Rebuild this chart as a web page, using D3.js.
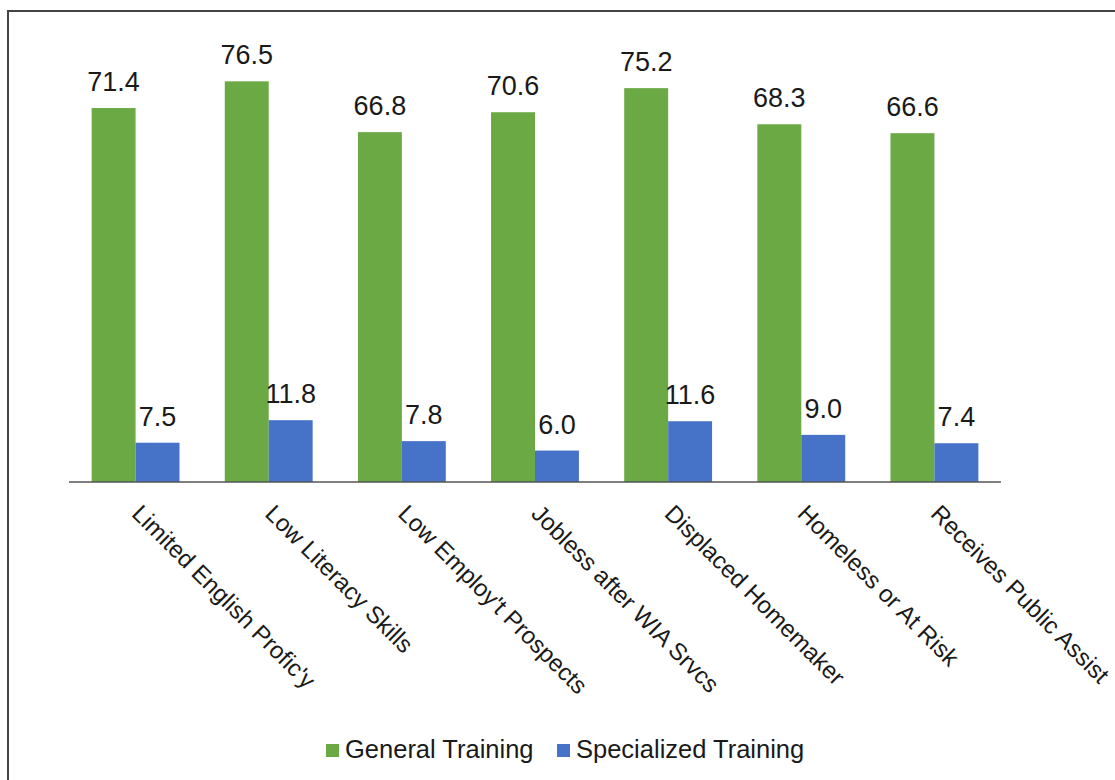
<!DOCTYPE html>
<html>
<head>
<meta charset="utf-8">
<script src="https://cdn.jsdelivr.net/npm/d3@7"></script>
<style>
  body { margin: 0; background: #fff; }
  text { font-family: Arial, "Liberation Sans", sans-serif; fill: #1a1a1a; }
</style>
</head>
<body>
<svg id="chart" width="1115" height="780"></svg>
<script>
// chart data
var categories = ["Limited English Profic'y", "Low Literacy Skills", "Low Employ't Prospects",
    "Jobless after WIA Srvcs", "Displaced Homemaker", "Homeless or At Risk", "Receives Public Assist"];
var seriesNames = ["General Training", "Specialized Training"];
var generalValues = [71.4, 76.5, 66.8, 70.6, 75.2, 68.3, 66.6];
var specializedValues = [7.5, 11.8, 7.8, 6.0, 11.6, 9.0, 7.4];
var colors = ["#6aa944", "#4673c8"];

var svg = d3.select("#chart");

// outer frame (runs off the right and bottom of the picture)
svg.append("rect")
    .attr("x", 8).attr("y", 11)
    .attr("width", 1130).attr("height", 800)
    .attr("fill", "none")
    .attr("stroke", "#444")
    .attr("stroke-width", 2);

var m = { left: 69, right: 114, top: 63, bottom: 298 };
var w = 1115 - m.left - m.right;
var h = 780 - m.top - m.bottom;

var chart = svg.append("g")
    .attr("transform", "translate(" + m.left + "," + m.top + ")");

var x = d3.scaleBand()
    .domain(categories)
    .range([0, w])
    .paddingInner(0.34)
    .paddingOuter(0.17);

var x1 = d3.scaleBand()
    .domain(seriesNames)
    .range([0, x.bandwidth()]);

var y = d3.scaleLinear()
    .domain([0, 80])
    .range([h, 0]);

var rows = categories.map(function (c, i) {
    return { cat: c, vals: [generalValues[i], specializedValues[i]] };
});

var groups = chart.selectAll(".grp")
    .data(rows)
    .enter().append("g")
    .attr("class", "grp")
    .attr("transform", function (d) { return "translate(" + x(d.cat) + ",0)"; });

groups.selectAll("rect")
    .data(function (d) { return d.vals.map(function (v, j) { return { s: seriesNames[j], v: v, j: j }; }); })
    .enter().append("rect")
    .attr("x", function (d) { return x1(d.s); })
    .attr("width", x1.bandwidth())
    .attr("y", function (d) { return y(d.v); })
    .attr("height", function (d) { return h - y(d.v); })
    .attr("fill", function (d) { return colors[d.j]; });

// value labels
groups.selectAll(".val")
    .data(function (d) { return d.vals.map(function (v, j) { return { s: seriesNames[j], v: v }; }); })
    .enter().append("text")
    .attr("class", "val")
    .attr("x", function (d) { return x1(d.s) + x1.bandwidth() / 2; })
    .attr("y", function (d) { return y(d.v) - 17; })
    .attr("text-anchor", "middle")
    .style("font-size", "27px")
    .text(function (d) { return d.v.toFixed(1); });

// x axis line
chart.append("line")
    .attr("x1", 0).attr("x2", w)
    .attr("y1", h).attr("y2", h)
    .attr("stroke", "#555")
    .attr("stroke-width", 1.5);

// rotated category labels
chart.selectAll(".cat")
    .data(categories)
    .enter().append("text")
    .attr("class", "cat")
    .attr("transform", function (d) {
        return "translate(" + (x(d) + x.bandwidth() / 2 - 5) + "," + (h + 33) + ") rotate(45)";
    })
    .attr("text-anchor", "start")
    .style("font-size", "24px")
    .text(function (d) { return d; });

// legend
var legendX = [326, 557];
var legend = svg.selectAll(".leg")
    .data(seriesNames)
    .enter().append("g")
    .attr("class", "leg")
    .attr("transform", function (d, i) { return "translate(" + legendX[i] + ",744)"; });

legend.append("rect")
    .attr("width", 13).attr("height", 13)
    .attr("fill", function (d, i) { return colors[i]; });

legend.append("text")
    .attr("x", 19)
    .attr("y", 14)
    .style("font-size", "25.5px")
    .text(function (d) { return d; });
</script>
</body>
</html>
